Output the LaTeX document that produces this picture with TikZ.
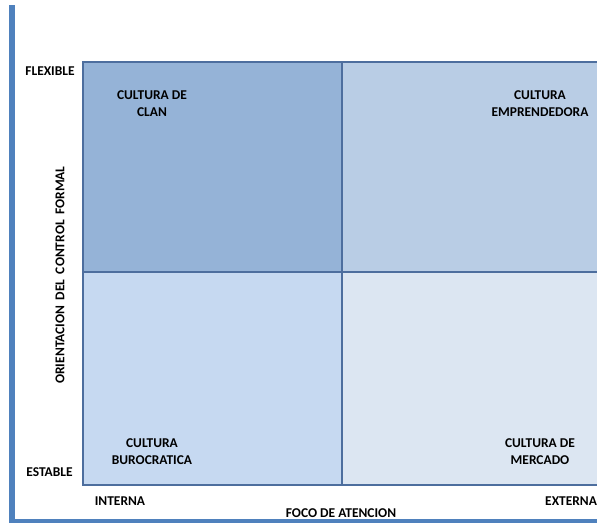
\documentclass[tikz,border=0pt]{standalone}
\usepackage{fontspec}
\setmainfont{Carlito}
\definecolor{barblue}{HTML}{4F81BD}
\definecolor{edgeblue}{HTML}{4D6E9E}
\definecolor{qtl}{HTML}{95B3D7}
\definecolor{qtr}{HTML}{B9CDE5}
\definecolor{qbl}{HTML}{C6D9F1}
\definecolor{qbr}{HTML}{DCE6F2}
\tikzset{
  quad/.style={draw=edgeblue, line width=2pt},
  lbl/.style={font=\bfseries\fontsize{13.5}{17}\selectfont, text=black, align=center, inner sep=0pt},
}
\begin{document}
\begin{tikzpicture}[x=1bp,y=-1bp]
\useasboundingbox (0,0) rectangle (597,523);
\clip (0,0) rectangle (597,523);
% frame bars
\fill[barblue] (9,5) rectangle (15,523);
\fill[barblue] (9,518.5) rectangle (597,523);
% quadrants
\filldraw[quad, fill=qtl] (83,62) rectangle (342,272);
\filldraw[quad, fill=qtr] (342,62) rectangle (605,272);
\filldraw[quad, fill=qbl] (83,272) rectangle (342,485);
\filldraw[quad, fill=qbr] (342,272) rectangle (605,485);
\draw[edgeblue, line width=2.6pt] (342,62) -- (342,485);
\draw[edgeblue, line width=2.6pt] (83,272) -- (605,272);
% quadrant labels
\node[lbl] (clan) at (152,104) {CULTURA DE\\CLAN};
\node[lbl] (empr) at (540,104) {CULTURA\\EMPRENDEDORA};
\node[lbl] (buro) at (152,452) {CULTURA\\BUROCRATICA};
\node[lbl] (merc) at (540,452) {CULTURA DE\\MERCADO};
% axis labels
\node[lbl] (flex) at (50,71) {FLEXIBLE};
\node[lbl] (estab) at (49.5,472) {ESTABLE};
\node[lbl] (interna) at (120,501) {INTERNA};
\node[lbl, anchor=west] (externa) at (545,501) {EXTERNA};
\node[lbl] (foco) at (341,513) {FOCO DE ATENCION};
\node[lbl, rotate=90] (orient) at (60,275) {\spaceskip=5.5bp ORIENTACION DEL CONTROL FORMAL};
\end{tikzpicture}
\end{document}
